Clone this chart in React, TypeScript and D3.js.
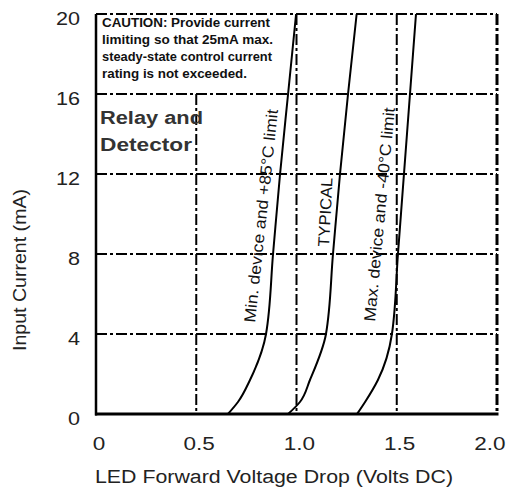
import React from 'react';
import * as d3 from 'd3';

// LED forward voltage vs input current
const currentPts = [0, 0.6, 1.7, 4, 8, 12, 16, 20];
const minVolts = [0.658, 0.708, 0.768, 0.848, 0.883, 0.918, 0.958, 0.998];
const typVolts = [0.958, 1.017, 1.067, 1.147, 1.182, 1.217, 1.257, 1.3];
const maxVolts = [1.302, 1.342, 1.406, 1.476, 1.506, 1.536, 1.566, 1.596];

const xTicks = [0, 0.5, 1.0, 1.5, 2.0];
const xTickLabels = ['0', '0.5', '1.0', '1.5', '2.0'];
const yTicks = [0, 4, 8, 12, 16, 20];

const cautionLines = [
  'CAUTION: Provide current',
  'limiting so that 25mA max.',
  'steady-state control current',
  'rating is not exceeded.',
];
const cautionWidths = [168, 171, 170, 145];

// curve labels: [startV, startI, endV, endI]
const curveLabels = [
  { text: 'Min. device and +85\u00b0C limit', pos: [0.793, 4.55, 0.908, 15.2] },
  { text: 'TYPICAL', pos: [1.162, 8.35, 1.18, 11.8] },
  { text: 'Max. device and -40\u00b0C limit', pos: [1.391, 4.6, 1.491, 15.3] },
];

const font = '"Liberation Sans", Arial, sans-serif';

const App = () => {
  const width = 512;
  const height = 491;
  const margin = { top: 14, right: 15, bottom: 77, left: 96 };

  const x = d3.scaleLinear().domain([0, 2]).range([margin.left, width - margin.right]);
  const y = d3.scaleLinear().domain([0, 20]).range([height - margin.bottom, margin.top]);

  const line = d3
    .line<number>()
    .x((v) => x(v))
    .y((_, i) => y(currentPts[i]))
    .curve(d3.curveMonotoneY);

  const series = [minVolts, typVolts, maxVolts];
  const dash = '11,3,3,3';

  return (
    <svg width={width} height={height} style={{ position: 'absolute', left: 0, top: 0 }}>
      <rect width={width} height={height} fill="#fff" />

      {/* horizontal grid + top border */}
      {yTicks.slice(1).map((t) => (
        <line
          key={'h' + t}
          x1={x(0)}
          x2={x(2)}
          y1={y(t)}
          y2={y(t)}
          stroke="#000"
          strokeWidth={2}
          strokeDasharray={dash}
        />
      ))}

      {/* vertical grid; 0.5 line stops under the caution note */}
      {xTicks.slice(1).map((t) => (
        <line
          key={'v' + t}
          x1={x(t)}
          x2={x(t)}
          y1={t === 0.5 ? y(16) : y(20)}
          y2={y(0)}
          stroke="#000"
          strokeWidth={t === 2 ? 3 : 2}
          strokeDasharray={dash}
        />
      ))}

      {/* axes */}
      <line x1={x(0)} x2={x(0)} y1={y(20)} y2={y(0) + 1.5} stroke="#000" strokeWidth={2.5} />
      <line x1={x(0) - 1} x2={x(2) + 1.5} y1={y(0)} y2={y(0)} stroke="#000" strokeWidth={3} />

      {/* curves */}
      {series.map((s, i) => (
        <path key={'c' + i} d={line(s) || ''} fill="none" stroke="#000" strokeWidth={2} />
      ))}

      {/* curve labels */}
      {curveLabels.map((c) => {
        const x0 = x(c.pos[0]);
        const y0 = y(c.pos[1]);
        const x1 = x(c.pos[2]);
        const y1 = y(c.pos[3]);
        const ang = (Math.atan2(y1 - y0, x1 - x0) * 180) / Math.PI;
        const len = Math.hypot(x1 - x0, y1 - y0);
        return (
          <text
            key={c.text}
            transform={`translate(${x0},${y0}) rotate(${ang})`}
            fontFamily={font}
            fontSize={16}
            fill="#111"
            textLength={len}
            lengthAdjust="spacingAndGlyphs"
          >
            {c.text}
          </text>
        );
      })}

      {/* caution note */}
      {cautionLines.map((l, i) => (
        <text
          key={l}
          x={102}
          y={27 + i * 17}
          fontFamily={font}
          fontWeight="bold"
          fontSize={13}
          fill="#111"
          textLength={cautionWidths[i]}
          lengthAdjust="spacingAndGlyphs"
        >
          {l}
        </text>
      ))}

      <text
        x={100}
        y={124}
        fontFamily={font}
        fontWeight="bold"
        fontSize={18}
        fill="#333"
        textLength={103}
        lengthAdjust="spacingAndGlyphs"
      >
        Relay and
      </text>
      <text
        x={100}
        y={151}
        fontFamily={font}
        fontWeight="bold"
        fontSize={18}
        fill="#333"
        textLength={92}
        lengthAdjust="spacingAndGlyphs"
      >
        Detector
      </text>

      {/* tick labels */}
      {yTicks.map((t) => (
        <g key={'yl' + t} transform={`translate(80,${y(t) + 5}) scale(1.2,1)`}>
          <text dy="0.35em" textAnchor="end" fontFamily={font} fontSize={18} fill="#222">
            {t}
          </text>
        </g>
      ))}
      {xTicks.map((t, i) => (
        <g key={'xl' + t} transform={`translate(${Math.min(x(t) + 3, 490)},450) scale(1.25,1)`}>
          <text textAnchor="middle" fontFamily={font} fontSize={18} fill="#222">
            {xTickLabels[i]}
          </text>
        </g>
      ))}

      {/* axis titles */}
      <text
        x={95}
        y={483}
        fontFamily={font}
        fontSize={18}
        fill="#222"
        textLength={358}
        lengthAdjust="spacingAndGlyphs"
      >
        LED Forward Voltage Drop (Volts DC)
      </text>
      <text
        transform="translate(26,270) rotate(-90)"
        textAnchor="middle"
        fontFamily={font}
        fontSize={18}
        fill="#222"
        textLength={162}
        lengthAdjust="spacingAndGlyphs"
      >
        Input Current (mA)
      </text>
    </svg>
  );
};

export default App;
